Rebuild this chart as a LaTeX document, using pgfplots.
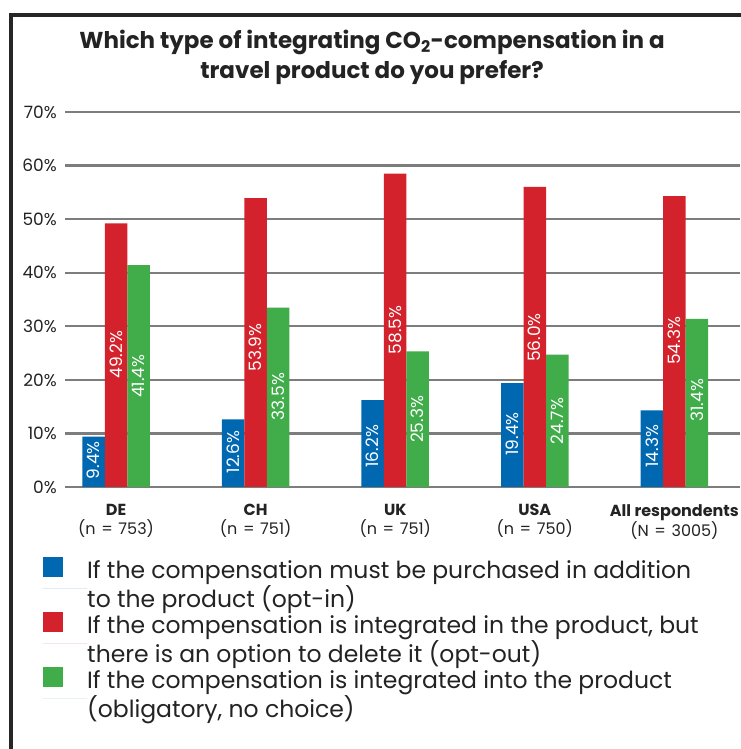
\documentclass[border=0pt]{standalone}
\usepackage{pgfplots}
\pgfplotsset{compat=1.18}
\usepackage{pgfplotstable}
\usepackage{fontspec}
\setmainfont{Poppins}
\definecolor{cblue}{RGB}{0,103,177}
\definecolor{cred}{RGB}{211,34,44}
\definecolor{cgreen}{RGB}{64,172,74}
\definecolor{gridc}{RGB}{125,125,125}
\definecolor{txt}{RGB}{35,35,35}
\pgfplotstableread{
x blue red green
0 9.4 49.2 41.4
1 12.6 53.9 33.5
2 16.2 58.5 25.3
3 19.4 56.0 24.7
4 14.3 54.3 31.4
}\datatab
% centres of the value labels inside the bars (in %)
\pgfplotstableread{
x lb blab lr rlab lg glab
0 5.0 9.4\% 24.7 49.2\% 20.7 41.4\%
1 6.5 12.6\% 26.0 53.9\% 16.9 33.5\%
2 7.6 16.2\% 29.3 58.5\% 12.6 25.3\%
3 9.9 19.4\% 27.9 56.0\% 12.3 24.7\%
4 7.6 14.3\% 27.3 54.3\% 16.2 31.4\%
}\labtab
\newcommand{\eq}{\hspace{0.35em}=\hspace{0.35em}}
\begin{document}
\begin{tikzpicture}
\useasboundingbox (0,0) rectangle (740pt,749pt);
\fill[white] (0,0) rectangle (740pt,749pt);
\draw[line width=4pt, black!85, line join=miter] (11pt,-5pt) -- (11pt,734pt) -- (745pt,734pt);
\node[font=\fontsize{23}{30}\selectfont, align=center, anchor=base, text=txt] at (372pt,670pt)
  {\textbf{Which type of integrating CO\textsubscript{2}-compensation in a}\\\textbf{travel product do you prefer?}};
\begin{axis}[
  at={(65pt,262pt)}, anchor=south west,
  scale only axis, width=675pt, height=375pt,
  xmin=-0.366, xmax=4.47, ymin=0, ymax=70,
  bar width=22.5pt,
  axis line style={draw=none},
  major tick length=0pt,
  ytick={0,10,...,70},
  yticklabel={\pgfmathprintnumber{\tick}\%},
  yticklabel style={inner sep=0pt, xshift=-8pt, anchor=east, font=\fontsize{17}{17}\selectfont, text=txt},
  /pgf/number format/assume math mode=true,
  ymajorgrids, major grid style={line width=2.4pt, gridc},
  xtick={0,1,2,3,4},
  xticklabels={{\textbf{DE}\\(n\eq753)},{\textbf{CH}\\(n\eq751)},{\textbf{UK}\\(n\eq751)},{\textbf{USA}\\(n\eq750)},{\textbf{All respondents}\\(N\eq3005)}},
  xticklabel style={align=center, font=\fontsize{16}{19}\selectfont, text=txt, inner sep=0pt, yshift=-17pt},
  legend cell align=left,
  legend style={draw=none, fill=none, at={(-0.0326,-0.206)}, anchor=north west,
    font=\fontsize{23.5}{27}\selectfont, text=txt, row sep=6pt, column sep=0pt, inner sep=0pt,
    nodes={align=left, inner sep=0pt, text height=43pt, text depth=6pt, draw=none}},
  legend image code/.code={\fill[#1, overlay] (0pt,12pt) rectangle (20pt,32pt); \path[draw=none] (0pt,0) -- (44pt,0);},
]
\addplot[ybar, fill=cblue, draw=none, bar shift=-22.5pt] table[x=x, y=blue] {\datatab};
\addlegendentry{If the compensation must be purchased in addition\\to the product (opt-in)}
\addplot[ybar, fill=cred, draw=none, bar shift=0pt] table[x=x, y=red] {\datatab};
\addlegendentry{If the compensation is integrated in the product, but\\there is an option to delete it (opt-out)}
\addplot[ybar, fill=cgreen, draw=none, bar shift=22.5pt] table[x=x, y=green] {\datatab};
\addlegendentry{If the compensation is integrated into the product\\(obligatory, no choice)}
\addplot[only marks, mark=none, forget plot, nodes near coords, point meta=explicit symbolic,
  every node near coord/.style={xshift=-22.5pt, rotate=90, anchor=center, white, font=\fontsize{17}{17}\selectfont}]
  table[x=x, y=lb, meta=blab] {\labtab};
\addplot[only marks, mark=none, forget plot, nodes near coords, point meta=explicit symbolic,
  every node near coord/.style={rotate=90, anchor=center, white, font=\fontsize{17}{17}\selectfont}]
  table[x=x, y=lr, meta=rlab] {\labtab};
\addplot[only marks, mark=none, forget plot, nodes near coords, point meta=explicit symbolic,
  every node near coord/.style={xshift=22.5pt, rotate=90, anchor=center, white, font=\fontsize{17}{17}\selectfont}]
  table[x=x, y=lg, meta=glab] {\labtab};
\end{axis}
\end{tikzpicture}
\end{document}
